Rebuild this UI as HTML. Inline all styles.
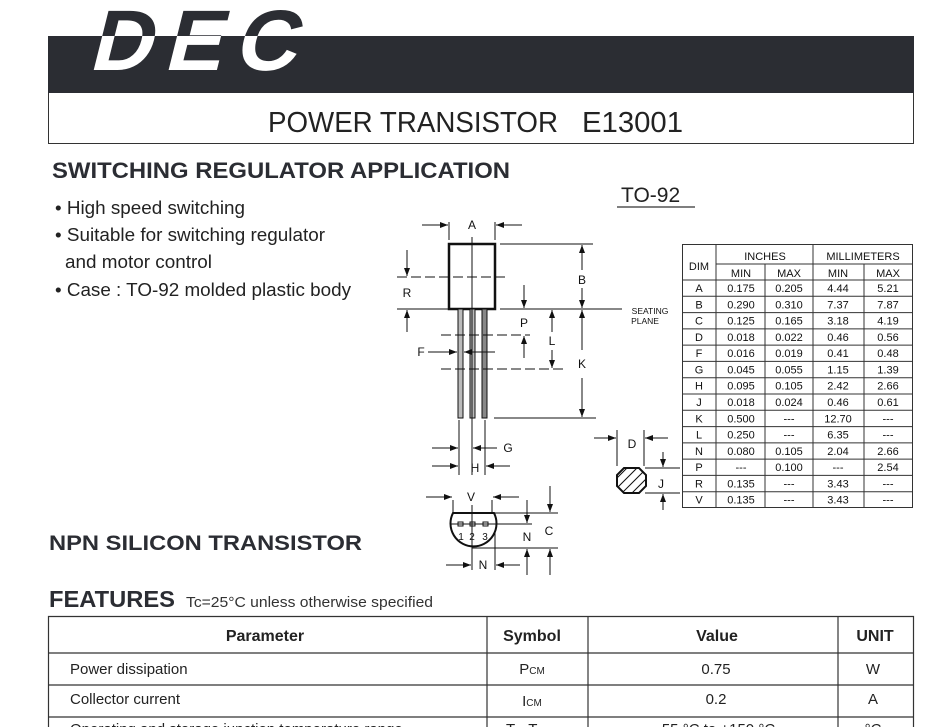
<!DOCTYPE html>
<html><head><meta charset="utf-8"><style>
html,body{margin:0;padding:0;background:#fff;}
svg{display:block;font-family:"Liberation Sans",Arial,sans-serif;}
</style></head><body>
<svg width="951" height="727" viewBox="0 0 951 727" xmlns="http://www.w3.org/2000/svg">
<defs>
<marker id="a" markerWidth="8" markerHeight="6" refX="8" refY="3" orient="auto" markerUnits="userSpaceOnUse"><path d="M0,0 L8,3 L0,6 z" fill="#111"/></marker>
<clipPath id="band"><rect x="0" y="36" width="914" height="57"/></clipPath>
<clipPath id="oct"><polygon points="624,468 639,468 646,475 646,486 639,493 624,493 617,486 617,475"/></clipPath>
</defs>
<rect width="951" height="727" fill="#fff"/>
<!-- header -->
<rect x="48" y="36" width="866" height="57" fill="#2b2d33"/>
<path d="M48.5,93 V143.5 H913.5 V93" fill="none" stroke="#333" stroke-width="1"/>
<g transform="translate(88,70) skewX(-14)">
<text x="0" y="0" font-size="86" font-weight="bold" fill="#2b2d33" textLength="207" lengthAdjust="spacing">DEC</text>
</g>
<g clip-path="url(#band)"><g transform="translate(88,70) skewX(-14)">
<text x="0" y="0" font-size="86" font-weight="bold" fill="#fff" textLength="207" lengthAdjust="spacing">DEC</text>
</g></g>
<text x="268" y="132" font-size="29" fill="#222" textLength="290" lengthAdjust="spacingAndGlyphs">POWER TRANSISTOR</text>
<text x="582" y="132" font-size="29" fill="#222" textLength="101" lengthAdjust="spacingAndGlyphs">E13001</text>
<text x="52" y="178" font-size="22" font-weight="bold" fill="#2b2d33" textLength="458" lengthAdjust="spacingAndGlyphs">SWITCHING REGULATOR APPLICATION</text>
<g font-size="18" fill="#222">
<text x="55" y="214" textLength="190" lengthAdjust="spacingAndGlyphs">• High speed switching</text>
<text x="55" y="241" textLength="270" lengthAdjust="spacingAndGlyphs">• Suitable for switching regulator</text>
<text x="65" y="268" textLength="147" lengthAdjust="spacingAndGlyphs">and motor control</text>
<text x="55" y="296" textLength="296" lengthAdjust="spacingAndGlyphs">• Case : TO-92 molded plastic body</text>
</g>
<text x="621" y="202" font-size="21" fill="#222">TO-92</text>
<line x1="617" y1="207" x2="695" y2="207" stroke="#555" stroke-width="1.5"/>

<!-- drawing -->
<g stroke="#111" stroke-width="1" fill="none">
<rect x="449" y="244" width="46" height="65" stroke-width="2.5"/>
<rect x="458" y="309" width="5" height="109" fill="#bbb"/>
<rect x="470" y="309" width="5" height="109" fill="#bbb"/>
<rect x="482" y="309" width="5" height="109" fill="#888"/>
<line x1="472" y1="237" x2="472" y2="420"/>
<line x1="449" y1="222" x2="449" y2="240"/><line x1="495" y1="222" x2="495" y2="240"/>
<line x1="422" y1="225" x2="448" y2="225" marker-end="url(#a)"/>
<line x1="522" y1="225" x2="496" y2="225" marker-end="url(#a)"/>
<line x1="500" y1="244" x2="593" y2="244"/>
<line x1="500" y1="309" x2="622" y2="309"/>
<line x1="494" y1="418" x2="596" y2="418"/>
<line x1="582" y1="270" x2="582" y2="245" marker-end="url(#a)"/>
<line x1="582" y1="288" x2="582" y2="308" marker-end="url(#a)"/>
<line x1="582" y1="350" x2="582" y2="310" marker-end="url(#a)"/>
<line x1="582" y1="378" x2="582" y2="417" marker-end="url(#a)"/>
<line x1="397" y1="277" x2="506" y2="277" stroke-dasharray="10,4"/>
<line x1="397" y1="309" x2="449" y2="309"/>
<line x1="407" y1="250" x2="407" y2="276" marker-end="url(#a)"/>
<line x1="407" y1="332" x2="407" y2="310" marker-end="url(#a)"/>
<line x1="524" y1="285" x2="524" y2="308" marker-end="url(#a)"/>
<line x1="441" y1="335" x2="530" y2="335" stroke-dasharray="10,4"/>
<line x1="524" y1="358" x2="524" y2="336" marker-end="url(#a)"/>
<line x1="552" y1="332" x2="552" y2="310" marker-end="url(#a)"/>
<line x1="552" y1="350" x2="552" y2="368" marker-end="url(#a)"/>
<line x1="441" y1="369" x2="565" y2="369" stroke-dasharray="10,4"/>
<line x1="428" y1="352" x2="457" y2="352" marker-end="url(#a)"/>
<line x1="495" y1="352" x2="464" y2="352" marker-end="url(#a)"/>
<line x1="459" y1="420" x2="459" y2="475"/><line x1="472" y1="420" x2="472" y2="475"/><line x1="485" y1="420" x2="485" y2="475"/>
<line x1="432" y1="448" x2="458" y2="448" marker-end="url(#a)"/>
<line x1="497" y1="448" x2="473" y2="448" marker-end="url(#a)"/>
<line x1="432" y1="466" x2="458" y2="466" marker-end="url(#a)"/>
<line x1="510" y1="466" x2="486" y2="466" marker-end="url(#a)"/>
<!-- D J -->
<polygon points="624,468 639,468 646,475 646,486 639,493 624,493 617,486 617,475" stroke-width="2"/>
<g clip-path="url(#oct)"><path d="M610,495 L640,465 M618,497 L648,467 M626,499 L656,469 M602,493 L632,463 M594,491 L624,461"/></g>
<line x1="617" y1="430" x2="617" y2="466"/><line x1="644" y1="430" x2="644" y2="466"/>
<line x1="594" y1="438" x2="616" y2="438" marker-end="url(#a)"/>
<line x1="668" y1="438" x2="645" y2="438" marker-end="url(#a)"/>
<line x1="645" y1="468" x2="680" y2="468"/><line x1="645" y1="493" x2="680" y2="493"/>
<line x1="663" y1="452" x2="663" y2="467" marker-end="url(#a)"/>
<line x1="663" y1="510" x2="663" y2="494" marker-end="url(#a)"/>
<!-- bottom view -->
<path d="M453,513 L494,513 A23,23 0 1 1 453,513 Z" stroke-width="2"/>
<line x1="453" y1="500" x2="453" y2="512"/><line x1="492" y1="500" x2="492" y2="512"/>
<line x1="426" y1="497" x2="452" y2="497" marker-end="url(#a)"/>
<line x1="519" y1="497" x2="493" y2="497" marker-end="url(#a)"/>
<line x1="494" y1="513" x2="558" y2="513"/>
<line x1="472" y1="505" x2="472" y2="570"/>
<line x1="450" y1="524" x2="532" y2="524"/>
<rect x="458" y="522" width="5" height="4"/><rect x="470" y="522" width="5" height="4"/><rect x="483" y="522" width="5" height="4"/>
<line x1="472" y1="548" x2="558" y2="548"/>
<line x1="550" y1="486" x2="550" y2="512" marker-end="url(#a)"/>
<line x1="550" y1="575" x2="550" y2="549" marker-end="url(#a)"/>
<line x1="527" y1="500" x2="527" y2="523" marker-end="url(#a)"/>
<line x1="527" y1="575" x2="527" y2="549" marker-end="url(#a)"/>
<line x1="495" y1="530" x2="495" y2="570"/>
<line x1="446" y1="565" x2="471" y2="565" marker-end="url(#a)"/>
<line x1="520" y1="565" x2="496" y2="565" marker-end="url(#a)"/>
</g>
<g font-size="12" fill="#111" text-anchor="middle">
<text x="472" y="229">A</text><text x="582" y="284">B</text><text x="407" y="297">R</text>
<text x="524" y="327">P</text><text x="552" y="345">L</text><text x="582" y="368">K</text>
<text x="421" y="356">F</text><text x="508" y="452">G</text><text x="475" y="472">H</text>
<text x="632" y="448">D</text><text x="661" y="488">J</text>
<text x="471" y="501">V</text><text x="549" y="535">C</text><text x="527" y="541">N</text><text x="483" y="569">N</text>
<text x="461" y="540" font-size="10">1</text><text x="472" y="540" font-size="10">2</text><text x="485" y="540" font-size="10">3</text>
<text x="650" y="314" font-size="8.5">SEATING</text><text x="645" y="324" font-size="8.5">PLANE</text>
</g>
<!-- dim table -->
<g stroke="#333" stroke-width="1" fill="none">
<rect x="682.5" y="244.5" width="230" height="263"/>
<line x1="716" y1="244" x2="716" y2="508"/>
<line x1="765" y1="264" x2="765" y2="508"/>
<line x1="813" y1="244" x2="813" y2="508"/>
<line x1="864" y1="264" x2="864" y2="508"/>
<line x1="716" y1="264" x2="913" y2="264"/>
<line x1="682" y1="280" x2="913" y2="280"/>
<line x1="682" y1="296.3" x2="913" y2="296.3"/><line x1="682" y1="312.6" x2="913" y2="312.6"/>
<line x1="682" y1="328.9" x2="913" y2="328.9"/><line x1="682" y1="345.1" x2="913" y2="345.1"/>
<line x1="682" y1="361.4" x2="913" y2="361.4"/><line x1="682" y1="377.7" x2="913" y2="377.7"/>
<line x1="682" y1="394" x2="913" y2="394"/><line x1="682" y1="410.3" x2="913" y2="410.3"/>
<line x1="682" y1="426.6" x2="913" y2="426.6"/><line x1="682" y1="442.9" x2="913" y2="442.9"/>
<line x1="682" y1="459.1" x2="913" y2="459.1"/><line x1="682" y1="475.4" x2="913" y2="475.4"/>
<line x1="682" y1="491.7" x2="913" y2="491.7"/>
</g>
<g font-size="11" fill="#111" text-anchor="middle">
<text x="699" y="270">DIM</text><text x="765" y="260">INCHES</text><text x="863" y="260">MILLIMETERS</text>
<text x="741" y="277">MIN</text><text x="789" y="277">MAX</text><text x="838" y="277">MIN</text><text x="888" y="277">MAX</text>
</g>
<g font-size="11" fill="#111" text-anchor="middle">
<g transform="translate(0,292)"><text x="699">A</text><text x="741">0.175</text><text x="789">0.205</text><text x="838">4.44</text><text x="888">5.21</text></g>
<g transform="translate(0,308.3)"><text x="699">B</text><text x="741">0.290</text><text x="789">0.310</text><text x="838">7.37</text><text x="888">7.87</text></g>
<g transform="translate(0,324.6)"><text x="699">C</text><text x="741">0.125</text><text x="789">0.165</text><text x="838">3.18</text><text x="888">4.19</text></g>
<g transform="translate(0,340.9)"><text x="699">D</text><text x="741">0.018</text><text x="789">0.022</text><text x="838">0.46</text><text x="888">0.56</text></g>
<g transform="translate(0,357.1)"><text x="699">F</text><text x="741">0.016</text><text x="789">0.019</text><text x="838">0.41</text><text x="888">0.48</text></g>
<g transform="translate(0,373.4)"><text x="699">G</text><text x="741">0.045</text><text x="789">0.055</text><text x="838">1.15</text><text x="888">1.39</text></g>
<g transform="translate(0,389.7)"><text x="699">H</text><text x="741">0.095</text><text x="789">0.105</text><text x="838">2.42</text><text x="888">2.66</text></g>
<g transform="translate(0,406)"><text x="699">J</text><text x="741">0.018</text><text x="789">0.024</text><text x="838">0.46</text><text x="888">0.61</text></g>
<g transform="translate(0,422.3)"><text x="699">K</text><text x="741">0.500</text><text x="789">---</text><text x="838">12.70</text><text x="888">---</text></g>
<g transform="translate(0,438.6)"><text x="699">L</text><text x="741">0.250</text><text x="789">---</text><text x="838">6.35</text><text x="888">---</text></g>
<g transform="translate(0,454.9)"><text x="699">N</text><text x="741">0.080</text><text x="789">0.105</text><text x="838">2.04</text><text x="888">2.66</text></g>
<g transform="translate(0,471.1)"><text x="699">P</text><text x="741">---</text><text x="789">0.100</text><text x="838">---</text><text x="888">2.54</text></g>
<g transform="translate(0,487.4)"><text x="699">R</text><text x="741">0.135</text><text x="789">---</text><text x="838">3.43</text><text x="888">---</text></g>
<g transform="translate(0,503.7)"><text x="699">V</text><text x="741">0.135</text><text x="789">---</text><text x="838">3.43</text><text x="888">---</text></g>
</g>

<text x="49" y="550" font-size="21" font-weight="bold" fill="#2b2d33" textLength="313" lengthAdjust="spacingAndGlyphs">NPN SILICON TRANSISTOR</text>
<text x="49" y="607" font-size="23" font-weight="bold" fill="#2b2d33" textLength="126" lengthAdjust="spacingAndGlyphs">FEATURES</text>
<text x="186" y="607" font-size="15" fill="#333" textLength="247" lengthAdjust="spacingAndGlyphs">Tc=25°C unless otherwise specified</text>
<!-- features table -->
<g stroke="#333" stroke-width="1.2" fill="none">
<path d="M48.5,727 V616.5 H913.5 V727"/>
<line x1="487" y1="616" x2="487" y2="727"/>
<line x1="588" y1="616" x2="588" y2="727"/>
<line x1="838" y1="616" x2="838" y2="727"/>
<line x1="48" y1="653" x2="913" y2="653"/>
<line x1="48" y1="685" x2="913" y2="685"/>
<line x1="48" y1="717" x2="913" y2="717"/>
</g>
<g font-size="16" fill="#222">
<text x="265" y="641" font-weight="bold" text-anchor="middle">Parameter</text>
<text x="532" y="641" font-weight="bold" text-anchor="middle">Symbol</text>
<text x="717" y="641" font-weight="bold" text-anchor="middle">Value</text>
<text x="875" y="641" font-weight="bold" text-anchor="middle">UNIT</text>
<text x="70" y="674" font-size="15">Power dissipation</text>
<text x="532" y="674" text-anchor="middle" font-size="15">P<tspan font-size="10">CM</tspan></text>
<text x="716" y="674" text-anchor="middle" font-size="15">0.75</text>
<text x="873" y="674" text-anchor="middle" font-size="15">W</text>
<text x="70" y="704" font-size="15">Collector current</text>
<text x="532" y="706" text-anchor="middle" font-size="15">I<tspan font-size="10">CM</tspan></text>
<text x="716" y="704" text-anchor="middle" font-size="15">0.2</text>
<text x="873" y="704" text-anchor="middle" font-size="15">A</text>
<text x="70" y="734" font-size="15">Operating and storage junction temperature range</text>
<text x="532" y="734" text-anchor="middle" font-size="15">T<tspan font-size="10">J</tspan>, T<tspan font-size="10">STG</tspan></text>
<text x="716" y="734" text-anchor="middle" font-size="15">-55 °C to +150 °C</text>
<text x="873" y="734" text-anchor="middle" font-size="15">°C</text>
</g>
</svg>
</body></html>
